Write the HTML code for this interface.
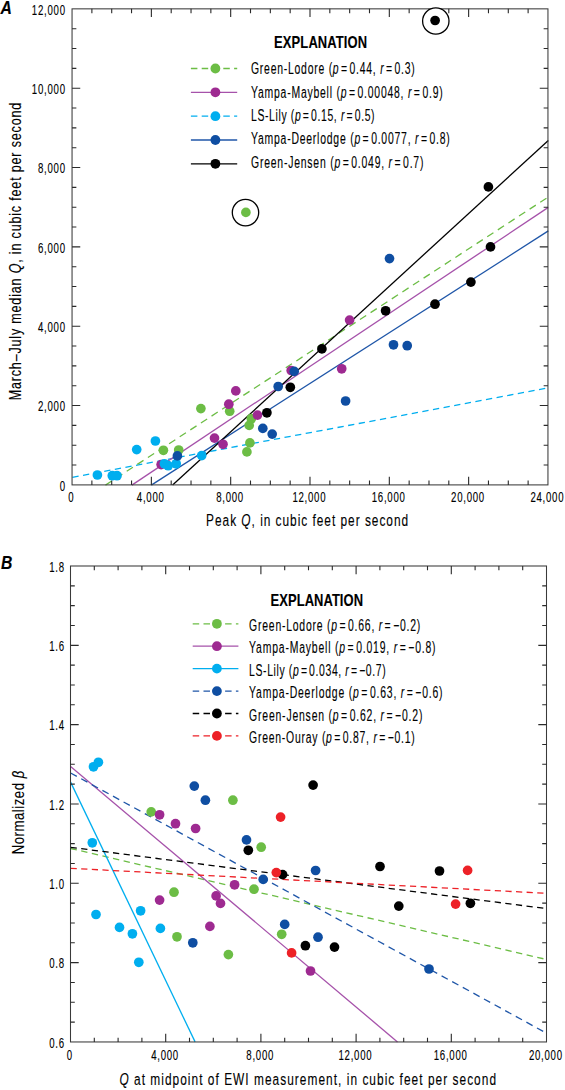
<!DOCTYPE html>
<html><head><meta charset="utf-8"><style>
html,body{margin:0;padding:0;background:#fff;}
svg{display:block;font-family:"Liberation Sans", sans-serif;}
text{fill:#000;stroke:#000;stroke-width:0.12px;}
</style></head><body>
<svg width="565" height="1090" viewBox="0 0 565 1090">
<rect width="565" height="1090" fill="#fff"/>
<g>
<line x1="72.40" y1="477.30" x2="548.30" y2="387.90" stroke="#00aeef" stroke-width="1.3" stroke-dasharray="6.31 4.48"/>
<line x1="105.50" y1="485.10" x2="548.30" y2="197.00" stroke="#6cbd45" stroke-width="1.3" stroke-dasharray="7.40 5.25"/>
<line x1="131.90" y1="485.10" x2="548.30" y2="207.40" stroke="#a652aa" stroke-width="1.3"/>
<line x1="151.30" y1="485.10" x2="548.30" y2="230.90" stroke="#1f56a8" stroke-width="1.3"/>
<line x1="172.60" y1="485.10" x2="548.30" y2="140.40" stroke="#000000" stroke-width="1.3"/>
</g>
<rect x="72.05" y="8.85" width="475.90" height="476.05" fill="none" stroke="#3a3a3a" stroke-width="1.05"/>
<path d="M91.88 484.90v-4.3M91.88 8.85v4.3M111.71 484.90v-4.3M111.71 8.85v4.3M131.54 484.90v-4.3M131.54 8.85v4.3M151.37 484.90v-8.2M151.37 8.85v8.2M171.20 484.90v-4.3M171.20 8.85v4.3M191.03 484.90v-4.3M191.03 8.85v4.3M210.85 484.90v-4.3M210.85 8.85v4.3M230.68 484.90v-8.2M230.68 8.85v8.2M250.51 484.90v-4.3M250.51 8.85v4.3M270.34 484.90v-4.3M270.34 8.85v4.3M290.17 484.90v-4.3M290.17 8.85v4.3M310.00 484.90v-8.2M310.00 8.85v8.2M329.83 484.90v-4.3M329.83 8.85v4.3M349.66 484.90v-4.3M349.66 8.85v4.3M369.49 484.90v-4.3M369.49 8.85v4.3M389.32 484.90v-8.2M389.32 8.85v8.2M409.15 484.90v-4.3M409.15 8.85v4.3M428.98 484.90v-4.3M428.98 8.85v4.3M448.80 484.90v-4.3M448.80 8.85v4.3M468.63 484.90v-8.2M468.63 8.85v8.2M488.46 484.90v-4.3M488.46 8.85v4.3M508.29 484.90v-4.3M508.29 8.85v4.3M528.12 484.90v-4.3M528.12 8.85v4.3M72.05 465.06h4.3M547.95 465.06h-4.3M72.05 445.23h4.3M547.95 445.23h-4.3M72.05 425.39h4.3M547.95 425.39h-4.3M72.05 405.56h8.2M547.95 405.56h-8.2M72.05 385.72h4.3M547.95 385.72h-4.3M72.05 365.89h4.3M547.95 365.89h-4.3M72.05 346.05h4.3M547.95 346.05h-4.3M72.05 326.22h8.2M547.95 326.22h-8.2M72.05 306.38h4.3M547.95 306.38h-4.3M72.05 286.55h4.3M547.95 286.55h-4.3M72.05 266.71h4.3M547.95 266.71h-4.3M72.05 246.88h8.2M547.95 246.88h-8.2M72.05 227.04h4.3M547.95 227.04h-4.3M72.05 207.20h4.3M547.95 207.20h-4.3M72.05 187.37h4.3M547.95 187.37h-4.3M72.05 167.53h8.2M547.95 167.53h-8.2M72.05 147.70h4.3M547.95 147.70h-4.3M72.05 127.86h4.3M547.95 127.86h-4.3M72.05 108.03h4.3M547.95 108.03h-4.3M72.05 88.19h8.2M547.95 88.19h-8.2M72.05 68.36h4.3M547.95 68.36h-4.3M72.05 48.52h4.3M547.95 48.52h-4.3M72.05 28.69h4.3M547.95 28.69h-4.3" stroke="#2a2a2a" stroke-width="1.1" fill="none"/>
<circle cx="245.5" cy="212.6" r="13.2" fill="#fff" stroke="#000" stroke-width="1.3"/>
<circle cx="435.8" cy="21.0" r="13.2" fill="#fff" stroke="#000" stroke-width="1.3"/>
<circle cx="245.9" cy="212.4" r="4.85" fill="#6cbd45"/>
<circle cx="435.1" cy="20.5" r="4.85" fill="#000000"/>
<circle cx="163.4" cy="450.3" r="4.85" fill="#6cbd45"/>
<circle cx="178.7" cy="450.0" r="4.85" fill="#6cbd45"/>
<circle cx="200.9" cy="408.6" r="4.85" fill="#6cbd45"/>
<circle cx="229.7" cy="411.2" r="4.85" fill="#6cbd45"/>
<circle cx="251.3" cy="418.7" r="4.85" fill="#6cbd45"/>
<circle cx="249.2" cy="425.4" r="4.85" fill="#6cbd45"/>
<circle cx="249.9" cy="442.9" r="4.85" fill="#6cbd45"/>
<circle cx="246.9" cy="451.9" r="4.85" fill="#6cbd45"/>
<circle cx="161.1" cy="464.6" r="4.85" fill="#9e2a91"/>
<circle cx="235.8" cy="390.9" r="4.85" fill="#9e2a91"/>
<circle cx="228.8" cy="404.2" r="4.85" fill="#9e2a91"/>
<circle cx="257.5" cy="415.1" r="4.85" fill="#9e2a91"/>
<circle cx="214.5" cy="438.1" r="4.85" fill="#9e2a91"/>
<circle cx="223.0" cy="444.3" r="4.85" fill="#9e2a91"/>
<circle cx="291.2" cy="370.5" r="4.85" fill="#9e2a91"/>
<circle cx="341.7" cy="368.8" r="4.85" fill="#9e2a91"/>
<circle cx="349.6" cy="320.1" r="4.85" fill="#9e2a91"/>
<circle cx="97.4" cy="475.0" r="4.85" fill="#00aeef"/>
<circle cx="112.3" cy="475.7" r="4.85" fill="#00aeef"/>
<circle cx="117.0" cy="475.7" r="4.85" fill="#00aeef"/>
<circle cx="136.7" cy="449.6" r="4.85" fill="#00aeef"/>
<circle cx="155.4" cy="441.0" r="4.85" fill="#00aeef"/>
<circle cx="164.4" cy="463.8" r="4.85" fill="#00aeef"/>
<circle cx="168.2" cy="465.7" r="4.85" fill="#00aeef"/>
<circle cx="176.2" cy="463.8" r="4.85" fill="#00aeef"/>
<circle cx="201.7" cy="455.6" r="4.85" fill="#00aeef"/>
<circle cx="177.4" cy="455.9" r="4.85" fill="#0f4ea2"/>
<circle cx="278.2" cy="386.5" r="4.85" fill="#0f4ea2"/>
<circle cx="294.2" cy="371.4" r="4.85" fill="#0f4ea2"/>
<circle cx="262.8" cy="428.4" r="4.85" fill="#0f4ea2"/>
<circle cx="272.2" cy="434.1" r="4.85" fill="#0f4ea2"/>
<circle cx="389.5" cy="258.6" r="4.85" fill="#0f4ea2"/>
<circle cx="393.5" cy="344.8" r="4.85" fill="#0f4ea2"/>
<circle cx="407.2" cy="345.7" r="4.85" fill="#0f4ea2"/>
<circle cx="345.6" cy="401.0" r="4.85" fill="#0f4ea2"/>
<circle cx="290.3" cy="387.3" r="4.85" fill="#000000"/>
<circle cx="266.9" cy="412.8" r="4.85" fill="#000000"/>
<circle cx="321.9" cy="348.9" r="4.85" fill="#000000"/>
<circle cx="385.6" cy="310.8" r="4.85" fill="#000000"/>
<circle cx="435.0" cy="304.2" r="4.85" fill="#000000"/>
<circle cx="470.9" cy="282.1" r="4.85" fill="#000000"/>
<circle cx="490.5" cy="246.9" r="4.85" fill="#000000"/>
<circle cx="488.4" cy="186.9" r="4.85" fill="#000000"/>
<text transform="translate(65.00,490.70) scale(0.7,1)" font-size="13.8" text-anchor="end" font-weight="normal" font-style="normal" textLength="8.64" lengthAdjust="spacing" >0</text>
<text transform="translate(65.00,411.36) scale(0.7,1)" font-size="13.8" text-anchor="end" font-weight="normal" font-style="normal" textLength="38.71" lengthAdjust="spacing" >2,000</text>
<text transform="translate(65.00,332.02) scale(0.7,1)" font-size="13.8" text-anchor="end" font-weight="normal" font-style="normal" textLength="38.71" lengthAdjust="spacing" >4,000</text>
<text transform="translate(65.00,252.68) scale(0.7,1)" font-size="13.8" text-anchor="end" font-weight="normal" font-style="normal" textLength="38.71" lengthAdjust="spacing" >6,000</text>
<text transform="translate(65.00,173.33) scale(0.7,1)" font-size="13.8" text-anchor="end" font-weight="normal" font-style="normal" textLength="38.71" lengthAdjust="spacing" >8,000</text>
<text transform="translate(65.00,93.99) scale(0.7,1)" font-size="13.8" text-anchor="end" font-weight="normal" font-style="normal" textLength="47.36" lengthAdjust="spacing" >10,000</text>
<text transform="translate(65.00,14.65) scale(0.7,1)" font-size="13.8" text-anchor="end" font-weight="normal" font-style="normal" textLength="47.36" lengthAdjust="spacing" >12,000</text>
<text transform="translate(71.05,501.80) scale(0.7,1)" font-size="13.8" text-anchor="middle" font-weight="normal" font-style="normal" textLength="8.64" lengthAdjust="spacing" >0</text>
<text transform="translate(150.37,501.80) scale(0.7,1)" font-size="13.8" text-anchor="middle" font-weight="normal" font-style="normal" textLength="38.71" lengthAdjust="spacing" >4,000</text>
<text transform="translate(229.68,501.80) scale(0.7,1)" font-size="13.8" text-anchor="middle" font-weight="normal" font-style="normal" textLength="38.71" lengthAdjust="spacing" >8,000</text>
<text transform="translate(309.00,501.80) scale(0.7,1)" font-size="13.8" text-anchor="middle" font-weight="normal" font-style="normal" textLength="47.36" lengthAdjust="spacing" >12,000</text>
<text transform="translate(388.32,501.80) scale(0.7,1)" font-size="13.8" text-anchor="middle" font-weight="normal" font-style="normal" textLength="47.36" lengthAdjust="spacing" >16,000</text>
<text transform="translate(467.63,501.80) scale(0.7,1)" font-size="13.8" text-anchor="middle" font-weight="normal" font-style="normal" textLength="47.36" lengthAdjust="spacing" >20,000</text>
<text transform="translate(547.00,501.80) scale(0.7,1)" font-size="13.8" text-anchor="middle" font-weight="normal" font-style="normal" textLength="47.36" lengthAdjust="spacing" >24,000</text>
<text transform="translate(206.10,526.20) scale(0.7,1)" font-size="17" text-anchor="start" font-weight="normal" font-style="normal" textLength="288.57" lengthAdjust="spacing" >Peak <tspan font-style="italic">Q</tspan>, in cubic feet per second</text>
<text transform="translate(20.90,400.30) rotate(-90) scale(0.76,1)" font-size="16.5" text-anchor="start" font-weight="normal" font-style="normal" textLength="391.45" lengthAdjust="spacing" >March–July median <tspan font-style="italic">Q</tspan>, in cubic feet per second</text>
<text transform="translate(0.40,14.20) scale(0.9,1)" font-size="17.5" text-anchor="start" font-weight="bold" font-style="italic" textLength="10.89" lengthAdjust="spacing" stroke-width="0.5">A</text>
<text transform="translate(274.10,47.80) scale(0.8,1)" font-size="16.2" text-anchor="start" font-weight="bold" font-style="normal" textLength="116.25" lengthAdjust="spacing" >EXPLANATION</text>
<line x1="190.9" y1="68.50" x2="237.2" y2="68.50" stroke="#6cbd45" stroke-width="1.3" stroke-dasharray="6.5 4.3"/>
<circle cx="215.4" cy="68.5" r="4.9" fill="#6cbd45"/>
<text transform="translate(251.00,74.10) scale(0.66,1)" font-size="15.8" text-anchor="start" font-weight="normal" font-style="normal" textLength="248.03" lengthAdjust="spacing" >Green-Lodore (<tspan font-style="italic">p</tspan> = 0.44, <tspan font-style="italic">r</tspan> = 0.3)</text>
<line x1="190.9" y1="92.33" x2="237.2" y2="92.33" stroke="#a652aa" stroke-width="1.3"/>
<circle cx="215.4" cy="92.3" r="4.9" fill="#9e2a91"/>
<text transform="translate(251.00,97.55) scale(0.66,1)" font-size="15.8" text-anchor="start" font-weight="normal" font-style="normal" textLength="290.45" lengthAdjust="spacing" >Yampa-Maybell (<tspan font-style="italic">p</tspan> = 0.00048, <tspan font-style="italic">r</tspan> = 0.9)</text>
<line x1="190.9" y1="116.16" x2="237.2" y2="116.16" stroke="#00aeef" stroke-width="1.3" stroke-dasharray="6.5 4.3"/>
<circle cx="215.4" cy="116.2" r="4.9" fill="#00aeef"/>
<text transform="translate(251.00,121.00) scale(0.66,1)" font-size="15.8" text-anchor="start" font-weight="normal" font-style="normal" textLength="187.27" lengthAdjust="spacing" >LS-Lily (<tspan font-style="italic">p</tspan> = 0.15, <tspan font-style="italic">r</tspan> = 0.5)</text>
<line x1="190.9" y1="139.99" x2="237.2" y2="139.99" stroke="#1f56a8" stroke-width="1.3"/>
<circle cx="215.4" cy="140.0" r="4.9" fill="#0f4ea2"/>
<text transform="translate(251.00,144.45) scale(0.66,1)" font-size="15.8" text-anchor="start" font-weight="normal" font-style="normal" textLength="301.06" lengthAdjust="spacing" >Yampa-Deerlodge (<tspan font-style="italic">p</tspan> = 0.0077, <tspan font-style="italic">r</tspan> = 0.8)</text>
<line x1="190.9" y1="163.82" x2="237.2" y2="163.82" stroke="#000000" stroke-width="1.3"/>
<circle cx="215.4" cy="163.8" r="4.9" fill="#000000"/>
<text transform="translate(251.00,167.90) scale(0.66,1)" font-size="15.8" text-anchor="start" font-weight="normal" font-style="normal" textLength="261.21" lengthAdjust="spacing" >Green-Jensen (<tspan font-style="italic">p</tspan> = 0.049, <tspan font-style="italic">r</tspan> = 0.7)</text>
<line x1="70.60" y1="848.50" x2="546.20" y2="959.40" stroke="#6cbd45" stroke-width="1.3" stroke-dasharray="6.37 4.52"/>
<line x1="70.60" y1="766.50" x2="397.50" y2="1041.90" stroke="#a652aa" stroke-width="1.3"/>
<line x1="70.60" y1="782.10" x2="195.10" y2="1041.90" stroke="#00aeef" stroke-width="1.3"/>
<line x1="70.60" y1="773.00" x2="546.20" y2="1033.00" stroke="#1f56a8" stroke-width="1.3" stroke-dasharray="7.07 5.01"/>
<line x1="70.60" y1="847.30" x2="546.20" y2="908.60" stroke="#000000" stroke-width="1.3" stroke-dasharray="6.25 4.44"/>
<line x1="70.60" y1="868.30" x2="546.20" y2="893.30" stroke="#ed2127" stroke-width="1.3" stroke-dasharray="6.21 4.41"/>
<rect x="70.50" y="566.00" width="476.00" height="475.96" fill="none" stroke="#3a3a3a" stroke-width="1.05"/>
<path d="M94.30 1041.96v-4.3M94.30 566.00v4.3M118.10 1041.96v-4.3M118.10 566.00v4.3M141.90 1041.96v-4.3M141.90 566.00v4.3M165.70 1041.96v-8.2M165.70 566.00v8.2M189.50 1041.96v-4.3M189.50 566.00v4.3M213.30 1041.96v-4.3M213.30 566.00v4.3M237.10 1041.96v-4.3M237.10 566.00v4.3M260.90 1041.96v-8.2M260.90 566.00v8.2M284.70 1041.96v-4.3M284.70 566.00v4.3M308.50 1041.96v-4.3M308.50 566.00v4.3M332.30 1041.96v-4.3M332.30 566.00v4.3M356.10 1041.96v-8.2M356.10 566.00v8.2M379.90 1041.96v-4.3M379.90 566.00v4.3M403.70 1041.96v-4.3M403.70 566.00v4.3M427.50 1041.96v-4.3M427.50 566.00v4.3M451.30 1041.96v-8.2M451.30 566.00v8.2M475.10 1041.96v-4.3M475.10 566.00v4.3M498.90 1041.96v-4.3M498.90 566.00v4.3M522.70 1041.96v-4.3M522.70 566.00v4.3M70.50 1022.13h4.3M546.50 1022.13h-4.3M70.50 1002.30h4.3M546.50 1002.30h-4.3M70.50 982.47h4.3M546.50 982.47h-4.3M70.50 962.63h8.2M546.50 962.63h-8.2M70.50 942.80h4.3M546.50 942.80h-4.3M70.50 922.97h4.3M546.50 922.97h-4.3M70.50 903.14h4.3M546.50 903.14h-4.3M70.50 883.31h8.2M546.50 883.31h-8.2M70.50 863.48h4.3M546.50 863.48h-4.3M70.50 843.64h4.3M546.50 843.64h-4.3M70.50 823.81h4.3M546.50 823.81h-4.3M70.50 803.98h8.2M546.50 803.98h-8.2M70.50 784.15h4.3M546.50 784.15h-4.3M70.50 764.32h4.3M546.50 764.32h-4.3M70.50 744.48h4.3M546.50 744.48h-4.3M70.50 724.65h8.2M546.50 724.65h-8.2M70.50 704.82h4.3M546.50 704.82h-4.3M70.50 684.99h4.3M546.50 684.99h-4.3M70.50 665.16h4.3M546.50 665.16h-4.3M70.50 645.33h8.2M546.50 645.33h-8.2M70.50 625.50h4.3M546.50 625.50h-4.3M70.50 605.66h4.3M546.50 605.66h-4.3M70.50 585.83h4.3M546.50 585.83h-4.3" stroke="#2a2a2a" stroke-width="1.1" fill="none"/>
<circle cx="151.2" cy="811.9" r="4.85" fill="#6cbd45"/>
<circle cx="232.9" cy="800.2" r="4.85" fill="#6cbd45"/>
<circle cx="261.2" cy="847.2" r="4.85" fill="#6cbd45"/>
<circle cx="254.0" cy="889.2" r="4.85" fill="#6cbd45"/>
<circle cx="174.0" cy="892.2" r="4.85" fill="#6cbd45"/>
<circle cx="177.0" cy="936.8" r="4.85" fill="#6cbd45"/>
<circle cx="228.4" cy="954.6" r="4.85" fill="#6cbd45"/>
<circle cx="281.7" cy="934.3" r="4.85" fill="#6cbd45"/>
<circle cx="159.6" cy="814.8" r="4.85" fill="#9e2a91"/>
<circle cx="175.5" cy="823.7" r="4.85" fill="#9e2a91"/>
<circle cx="195.6" cy="828.5" r="4.85" fill="#9e2a91"/>
<circle cx="159.6" cy="900.1" r="4.85" fill="#9e2a91"/>
<circle cx="234.6" cy="884.8" r="4.85" fill="#9e2a91"/>
<circle cx="216.1" cy="895.9" r="4.85" fill="#9e2a91"/>
<circle cx="220.5" cy="903.4" r="4.85" fill="#9e2a91"/>
<circle cx="209.9" cy="926.4" r="4.85" fill="#9e2a91"/>
<circle cx="310.5" cy="971.0" r="4.85" fill="#9e2a91"/>
<circle cx="93.5" cy="766.8" r="4.85" fill="#00aeef"/>
<circle cx="98.4" cy="762.3" r="4.85" fill="#00aeef"/>
<circle cx="92.3" cy="842.8" r="4.85" fill="#00aeef"/>
<circle cx="96.0" cy="914.5" r="4.85" fill="#00aeef"/>
<circle cx="119.5" cy="927.4" r="4.85" fill="#00aeef"/>
<circle cx="132.4" cy="933.8" r="4.85" fill="#00aeef"/>
<circle cx="140.6" cy="910.8" r="4.85" fill="#00aeef"/>
<circle cx="160.4" cy="928.4" r="4.85" fill="#00aeef"/>
<circle cx="138.8" cy="962.3" r="4.85" fill="#00aeef"/>
<circle cx="194.3" cy="786.1" r="4.85" fill="#0f4ea2"/>
<circle cx="205.4" cy="800.2" r="4.85" fill="#0f4ea2"/>
<circle cx="246.5" cy="839.9" r="4.85" fill="#0f4ea2"/>
<circle cx="263.2" cy="879.4" r="4.85" fill="#0f4ea2"/>
<circle cx="315.6" cy="870.5" r="4.85" fill="#0f4ea2"/>
<circle cx="192.8" cy="942.8" r="4.85" fill="#0f4ea2"/>
<circle cx="284.7" cy="924.4" r="4.85" fill="#0f4ea2"/>
<circle cx="318.0" cy="937.2" r="4.85" fill="#0f4ea2"/>
<circle cx="429.0" cy="969.0" r="4.85" fill="#0f4ea2"/>
<circle cx="313.1" cy="785.1" r="4.85" fill="#000000"/>
<circle cx="248.3" cy="850.3" r="4.85" fill="#000000"/>
<circle cx="282.6" cy="874.6" r="4.85" fill="#000000"/>
<circle cx="380.0" cy="866.5" r="4.85" fill="#000000"/>
<circle cx="439.5" cy="871.0" r="4.85" fill="#000000"/>
<circle cx="398.8" cy="906.1" r="4.85" fill="#000000"/>
<circle cx="470.4" cy="903.3" r="4.85" fill="#000000"/>
<circle cx="305.4" cy="945.7" r="4.85" fill="#000000"/>
<circle cx="334.5" cy="947.1" r="4.85" fill="#000000"/>
<circle cx="280.6" cy="817.1" r="4.85" fill="#ed2127"/>
<circle cx="276.3" cy="872.6" r="4.85" fill="#ed2127"/>
<circle cx="291.6" cy="952.9" r="4.85" fill="#ed2127"/>
<circle cx="467.6" cy="870.4" r="4.85" fill="#ed2127"/>
<circle cx="455.6" cy="904.1" r="4.85" fill="#ed2127"/>
<text transform="translate(64.20,1047.76) scale(0.7,1)" font-size="13.8" text-anchor="end" font-weight="normal" font-style="normal" textLength="21.43" lengthAdjust="spacing" >0.6</text>
<text transform="translate(64.20,968.43) scale(0.7,1)" font-size="13.8" text-anchor="end" font-weight="normal" font-style="normal" textLength="21.43" lengthAdjust="spacing" >0.8</text>
<text transform="translate(64.20,889.11) scale(0.7,1)" font-size="13.8" text-anchor="end" font-weight="normal" font-style="normal" textLength="21.43" lengthAdjust="spacing" >1.0</text>
<text transform="translate(64.20,809.78) scale(0.7,1)" font-size="13.8" text-anchor="end" font-weight="normal" font-style="normal" textLength="21.43" lengthAdjust="spacing" >1.2</text>
<text transform="translate(64.20,730.45) scale(0.7,1)" font-size="13.8" text-anchor="end" font-weight="normal" font-style="normal" textLength="21.43" lengthAdjust="spacing" >1.4</text>
<text transform="translate(64.20,651.13) scale(0.7,1)" font-size="13.8" text-anchor="end" font-weight="normal" font-style="normal" textLength="21.43" lengthAdjust="spacing" >1.6</text>
<text transform="translate(64.20,571.80) scale(0.7,1)" font-size="13.8" text-anchor="end" font-weight="normal" font-style="normal" textLength="21.43" lengthAdjust="spacing" >1.8</text>
<text transform="translate(69.50,1059.60) scale(0.7,1)" font-size="13.8" text-anchor="middle" font-weight="normal" font-style="normal" textLength="8.64" lengthAdjust="spacing" >0</text>
<text transform="translate(164.70,1059.60) scale(0.7,1)" font-size="13.8" text-anchor="middle" font-weight="normal" font-style="normal" textLength="38.71" lengthAdjust="spacing" >4,000</text>
<text transform="translate(259.90,1059.60) scale(0.7,1)" font-size="13.8" text-anchor="middle" font-weight="normal" font-style="normal" textLength="38.71" lengthAdjust="spacing" >8,000</text>
<text transform="translate(355.10,1059.60) scale(0.7,1)" font-size="13.8" text-anchor="middle" font-weight="normal" font-style="normal" textLength="47.36" lengthAdjust="spacing" >12,000</text>
<text transform="translate(450.30,1059.60) scale(0.7,1)" font-size="13.8" text-anchor="middle" font-weight="normal" font-style="normal" textLength="47.36" lengthAdjust="spacing" >16,000</text>
<text transform="translate(545.50,1059.60) scale(0.7,1)" font-size="13.8" text-anchor="middle" font-weight="normal" font-style="normal" textLength="47.36" lengthAdjust="spacing" >20,000</text>
<text transform="translate(119.40,1084.80) scale(0.7,1)" font-size="17" text-anchor="start" font-weight="normal" font-style="normal" textLength="538.00" lengthAdjust="spacing" ><tspan font-style="italic">Q</tspan> at midpoint of EWI measurement, in cubic feet per second</text>
<text transform="translate(23.80,854.30) rotate(-90) scale(0.8,1)" font-size="16.5" text-anchor="start" font-weight="normal" font-style="normal" textLength="104.38" lengthAdjust="spacing" >Normalized <tspan font-style="italic">β</tspan></text>
<text transform="translate(1.00,568.90) scale(0.9,1)" font-size="17.5" text-anchor="start" font-weight="bold" font-style="italic" textLength="11.56" lengthAdjust="spacing" stroke-width="0.5">B</text>
<text transform="translate(270.60,605.70) scale(0.8,1)" font-size="16.2" text-anchor="start" font-weight="bold" font-style="normal" textLength="115.50" lengthAdjust="spacing" >EXPLANATION</text>
<line x1="192.7" y1="623.80" x2="238.4" y2="623.80" stroke="#6cbd45" stroke-width="1.3" stroke-dasharray="6.5 4.3"/>
<circle cx="216.9" cy="623.8" r="4.9" fill="#6cbd45"/>
<text transform="translate(249.10,630.80) scale(0.66,1)" font-size="15.8" text-anchor="start" font-weight="normal" font-style="normal" textLength="259.39" lengthAdjust="spacing" >Green-Lodore (<tspan font-style="italic">p</tspan> = 0.66, <tspan font-style="italic">r</tspan> = −0.2)</text>
<line x1="192.7" y1="646.22" x2="238.4" y2="646.22" stroke="#a652aa" stroke-width="1.3"/>
<circle cx="216.9" cy="646.2" r="4.9" fill="#9e2a91"/>
<text transform="translate(249.10,653.26) scale(0.66,1)" font-size="15.8" text-anchor="start" font-weight="normal" font-style="normal" textLength="282.58" lengthAdjust="spacing" >Yampa-Maybell (<tspan font-style="italic">p</tspan> = 0.019, <tspan font-style="italic">r</tspan> = −0.8)</text>
<line x1="192.7" y1="668.64" x2="238.4" y2="668.64" stroke="#00aeef" stroke-width="1.3"/>
<circle cx="216.9" cy="668.6" r="4.9" fill="#00aeef"/>
<text transform="translate(249.10,675.72) scale(0.66,1)" font-size="15.8" text-anchor="start" font-weight="normal" font-style="normal" textLength="206.97" lengthAdjust="spacing" >LS-Lily (<tspan font-style="italic">p</tspan> = 0.034, <tspan font-style="italic">r</tspan> = −0.7)</text>
<line x1="192.7" y1="691.06" x2="238.4" y2="691.06" stroke="#1f56a8" stroke-width="1.3" stroke-dasharray="6.5 4.3"/>
<circle cx="216.9" cy="691.1" r="4.9" fill="#0f4ea2"/>
<text transform="translate(249.10,698.18) scale(0.66,1)" font-size="15.8" text-anchor="start" font-weight="normal" font-style="normal" textLength="293.18" lengthAdjust="spacing" >Yampa-Deerlodge (<tspan font-style="italic">p</tspan> = 0.63, <tspan font-style="italic">r</tspan> = −0.6)</text>
<line x1="192.7" y1="713.48" x2="238.4" y2="713.48" stroke="#000000" stroke-width="1.3" stroke-dasharray="6.5 4.3"/>
<circle cx="216.9" cy="713.5" r="4.9" fill="#000000"/>
<text transform="translate(249.10,720.64) scale(0.66,1)" font-size="15.8" text-anchor="start" font-weight="normal" font-style="normal" textLength="262.58" lengthAdjust="spacing" >Green-Jensen (<tspan font-style="italic">p</tspan> = 0.62, <tspan font-style="italic">r</tspan> = −0.2)</text>
<line x1="192.7" y1="735.90" x2="238.4" y2="735.90" stroke="#ed2127" stroke-width="1.3" stroke-dasharray="6.5 4.3"/>
<circle cx="216.9" cy="735.9" r="4.9" fill="#ed2127"/>
<text transform="translate(249.10,743.10) scale(0.66,1)" font-size="15.8" text-anchor="start" font-weight="normal" font-style="normal" textLength="251.06" lengthAdjust="spacing" >Green-Ouray (<tspan font-style="italic">p</tspan> = 0.87, <tspan font-style="italic">r</tspan> = −0.1)</text>
</svg></body></html>
